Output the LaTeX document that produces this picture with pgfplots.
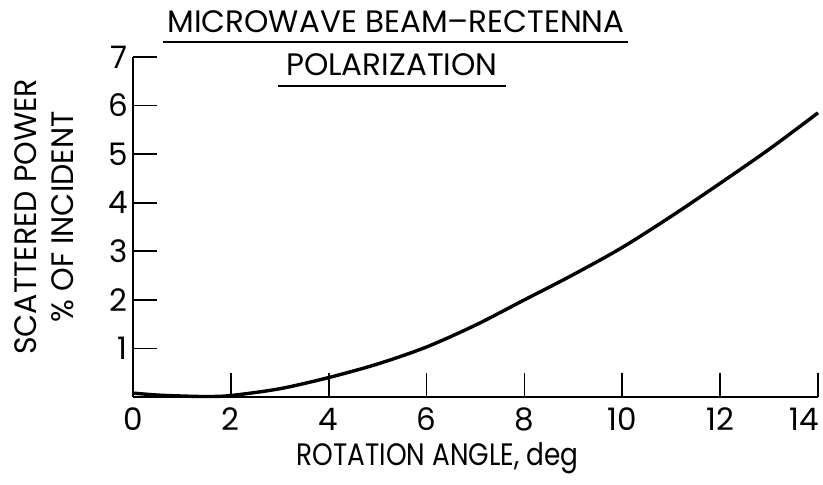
\documentclass[border=0pt]{standalone}
\usepackage{fontspec}
\setmainfont{Poppins}
\newfontfamily\narrowf{Poppins}[FakeStretch=0.85]
\newfontfamily\ylf{Poppins}[FakeStretch=0.97]
\usepackage{pgfplots}
\pgfplotsset{compat=1.18}
\begin{document}
\begin{tikzpicture}
\begin{axis}[
  scale only axis,
  width=685pt, height=340pt,
  xmin=0, xmax=14, ymin=0, ymax=7,
  axis x line=bottom, axis y line=left,
  axis line style={-, line width=2.4pt},
  xtick={0,2,...,14}, ytick={1,...,7},
  xticklabels={0,2,4,6,8,10,12,{\kern-14pt 14\kern14pt}},
  tick align=inside,
  major tick length=24pt,
  tick style={line width=1.8pt, black},
  /pgf/number format/assume math mode=true,
  ticklabel style={font=\fontsize{31}{34}\selectfont, inner sep=0pt},
  xticklabel style={anchor=base, yshift=-34pt},
  yticklabel style={anchor=east, xshift=-5pt},
  xlabel={ROTATION ANGLE, deg},
  xlabel style={font=\narrowf\fontsize{31}{34}\selectfont, at={(axis description cs:0.4445,0)}, anchor=base, yshift=-69pt},
  ylabel={SCATTERED POWER\\\% OF INCIDENT},
  ylabel style={font=\ylf\fontsize{31}{37}\selectfont, align=center, at={(axis description cs:0,0.53)}, anchor=center, yshift=88.5pt},
  clip=false,
]
\addplot[black, line width=3.4pt, smooth] coordinates {
(0,0.08) (0.5,0.04) (1,0.02) (1.5,0.01) (2,0.03) (3,0.17) (4,0.40) (5,0.68) (6,1.03) (7,1.48) (8,2.00) (9,2.52) (10,3.08) (11,3.72) (12,4.40) (13,5.10) (14,5.85)
};
\node[anchor=base, font=\fontsize{31}{34}\selectfont] at (axis description cs:0.384,1.071) {MICROWAVE BEAM--RECTENNA};
\draw[line width=2pt] (axis description cs:0.044,1.044) -- (axis description cs:0.723,1.044);
\node[anchor=base, font=\fontsize{31}{34}\selectfont] at (axis description cs:0.378,0.947) {POLARIZATION};
\draw[line width=2pt] (axis description cs:0.212,0.915) -- (axis description cs:0.545,0.915);
\end{axis}
\pgfresetboundingbox
\path[use as bounding box] ([xshift=-133pt,yshift=-88pt]current axis.south west) rectangle ([xshift=5pt,yshift=57pt]current axis.north east);
\end{tikzpicture}
\end{document}
